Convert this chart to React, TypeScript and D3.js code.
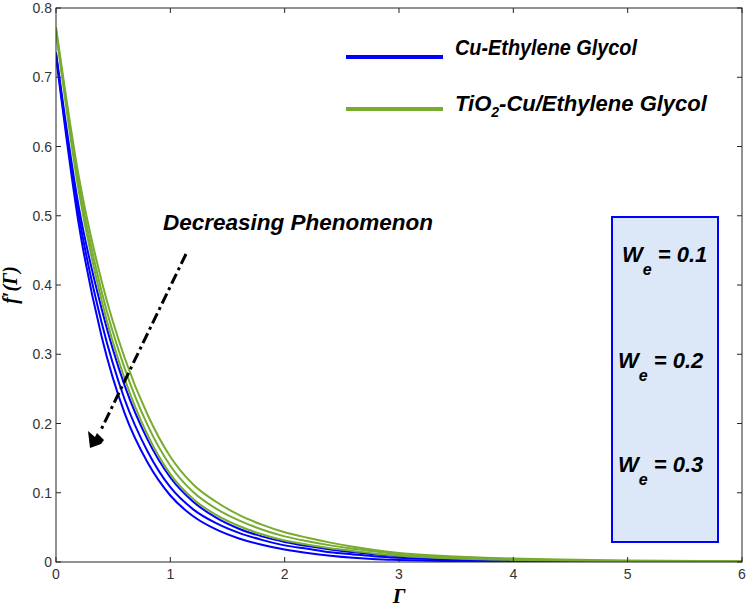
import * as d3 from "d3";

const gamma = [0, 0.2, 0.4, 0.6, 0.8, 1.0, 1.2, 1.4, 1.6, 1.8, 2.0, 2.2, 2.4, 2.6, 2.8, 3.0, 3.5, 4, 5, 6];

// Cu-Ethylene Glycol (blue), We = 0.1, 0.2, 0.3
const cuWe01 = [0.736, 0.512, 0.365, 0.255, 0.177, 0.122, 0.087, 0.064, 0.048, 0.037, 0.029, 0.023, 0.018, 0.014, 0.011, 0.008, 0.004, 0.002, 0.0005, 0];
const cuWe02 = [0.733, 0.5, 0.345, 0.235, 0.16, 0.108, 0.076, 0.056, 0.042, 0.032, 0.024, 0.019, 0.014, 0.011, 0.008, 0.006, 0.003, 0.001, 0, 0];
const cuWe03 = [0.73, 0.487, 0.325, 0.215, 0.144, 0.096, 0.066, 0.047, 0.034, 0.025, 0.018, 0.013, 0.009, 0.006, 0.004, 0.003, 0.001, 0, 0, 0];

// TiO2-Cu/Ethylene Glycol (green), We = 0.1, 0.2, 0.3
const hybWe01 = [0.772, 0.556, 0.405, 0.295, 0.213, 0.152, 0.112, 0.087, 0.068, 0.054, 0.043, 0.035, 0.028, 0.022, 0.017, 0.013, 0.008, 0.005, 0.002, 0.001];
const hybWe02 = [0.769, 0.545, 0.39, 0.28, 0.198, 0.139, 0.101, 0.077, 0.06, 0.047, 0.037, 0.03, 0.024, 0.019, 0.015, 0.011, 0.007, 0.004, 0.0015, 0.001];
const hybWe03 = [0.766, 0.535, 0.377, 0.265, 0.184, 0.127, 0.091, 0.068, 0.052, 0.04, 0.031, 0.025, 0.02, 0.016, 0.012, 0.009, 0.005, 0.003, 0.001, 0.0005];

const xTicks = [0, 1, 2, 3, 4, 5, 6];
const yTicks = [0, 0.1, 0.2, 0.3, 0.4, 0.5, 0.6, 0.7, 0.8];
const weLabels = ["0.1", "0.2", "0.3"];
const legendNames = ["Cu-Ethylene Glycol", "TiO2-Cu/Ethylene Glycol"];

const BLUE = "#0000ff";
const GREEN = "#77ac30";
const AXIS = "#262626";
const BOLD_IT = "'Liberation Sans', Arial, sans-serif";

export default function App() {
  const W = 749;
  const H = 607;
  const m = { left: 56, right: 742, top: 8, bottom: 562 };

  const x = d3.scaleLinear().domain([0, 6]).range([m.left, m.right]);
  const y = d3.scaleLinear().domain([0, 0.8]).range([m.bottom, m.top]);

  const line = d3
    .line<number>()
    .x((_, i) => x(gamma[i]))
    .y((d) => y(d))
    .curve(d3.curveMonotoneX);

  const blue = [cuWe01, cuWe02, cuWe03];
  const green = [hybWe01, hybWe02, hybWe03];

  const tick = 5;
  const weY = [262, 368, 472];

  return (
    <svg
      width={W}
      height={H}
      style={{ position: "absolute", left: 0, top: 0, background: "#fff" }}
    >
      <defs>
        <clipPath id="plot">
          <rect x={m.left} y={m.top} width={m.right - m.left} height={m.bottom - m.top} />
        </clipPath>
      </defs>

      {/* curves */}
      <g clipPath="url(#plot)" fill="none">
        {blue.map((s, i) => (
          <path key={"b" + i} d={line(s) || ""} stroke={BLUE} strokeWidth={2} />
        ))}
        {green.map((s, i) => (
          <path key={"g" + i} d={line(s) || ""} stroke={GREEN} strokeWidth={2} />
        ))}
      </g>

      {/* frame */}
      <rect
        x={m.left}
        y={m.top}
        width={m.right - m.left}
        height={m.bottom - m.top}
        fill="none"
        stroke={AXIS}
        strokeWidth={1}
      />

      {/* ticks, MATLAB style: inward on all four sides */}
      <g fontFamily="Arial, 'Liberation Sans', sans-serif" fontSize={14} fill="#333">
        {xTicks.map((t) => (
          <g key={"x" + t}>
            <line x1={x(t)} x2={x(t)} y1={m.bottom} y2={m.bottom - tick} stroke={AXIS} />
            <line x1={x(t)} x2={x(t)} y1={m.top} y2={m.top + tick} stroke={AXIS} />
            <text x={x(t)} y={m.bottom + 17} textAnchor="middle">
              {t}
            </text>
          </g>
        ))}
        {yTicks.map((t) => (
          <g key={"y" + t}>
            <line x1={m.left} x2={m.left + tick} y1={y(t)} y2={y(t)} stroke={AXIS} />
            <line x1={m.right} x2={m.right - tick} y1={y(t)} y2={y(t)} stroke={AXIS} />
            <text x={m.left - 4} y={y(t) + 5} textAnchor="end">
              {t === 0 ? "0" : d3.format(".1f")(t)}
            </text>
          </g>
        ))}
      </g>

      {/* axis titles */}
      <text
        x={x(3)}
        y={603}
        textAnchor="middle"
        fontFamily="'Liberation Serif', 'Times New Roman', serif"
        fontStyle="italic"
        fontWeight="bold"
        fontSize={21}
      >
        Γ
      </text>
      <text
        transform={`translate(17, ${y(0.4)}) rotate(-90)`}
        textAnchor="middle"
        fontFamily="'Liberation Serif', 'Times New Roman', serif"
        fontStyle="italic"
        fontWeight="bold"
        fontSize={20}
      >
        f′(Γ)
      </text>

      {/* legend */}
      <g fontFamily={BOLD_IT} fontStyle="italic" fontWeight="bold" fontSize={22}>
        <line x1={346} x2={443} y1={57} y2={57} stroke={BLUE} strokeWidth={4} />
        <text x={455} y={55} textLength={182} lengthAdjust="spacingAndGlyphs">
          {legendNames[0]}
        </text>
        <line x1={346} x2={443} y1={109} y2={109} stroke={GREEN} strokeWidth={4} />
        <text x={455} y={111}>
          TiO<tspan fontSize={14} dy={6}>2</tspan>
          <tspan dy={-6}>{legendNames[1].slice(4)}</tspan>
        </text>
      </g>

      {/* annotation */}
      <text
        x={163}
        y={230}
        fontFamily={BOLD_IT}
        fontStyle="italic"
        fontWeight="bold"
        fontSize={22}
        textLength={270}
        lengthAdjust="spacingAndGlyphs"
      >
        Decreasing Phenomenon
      </text>
      <line
        x1={186}
        y1={254}
        x2={100}
        y2={432}
        stroke="#000"
        strokeWidth={3}
        strokeDasharray="11,4,3,4"
      />
      <polygon points="90,448 88,431 95,437 97,433 104,440 101,444" fill="#000" />

      {/* We box */}
      <rect x={612} y={217} width={106} height={325} fill="#dce8f7" stroke={BLUE} strokeWidth={2} />
      <g fontFamily={BOLD_IT} fontStyle="italic" fontWeight="bold" fontSize={22}>
        {weLabels.map((v, i) => (
          <text key={v} x={i === 0 ? 622 : 618} y={weY[i]}>
            W
            <tspan fontSize={16} dy={13}>e</tspan>
            <tspan dy={-13}>{i === 0 ? " = " : "  = "}{v}</tspan>
          </text>
        ))}
      </g>
    </svg>
  );
}
